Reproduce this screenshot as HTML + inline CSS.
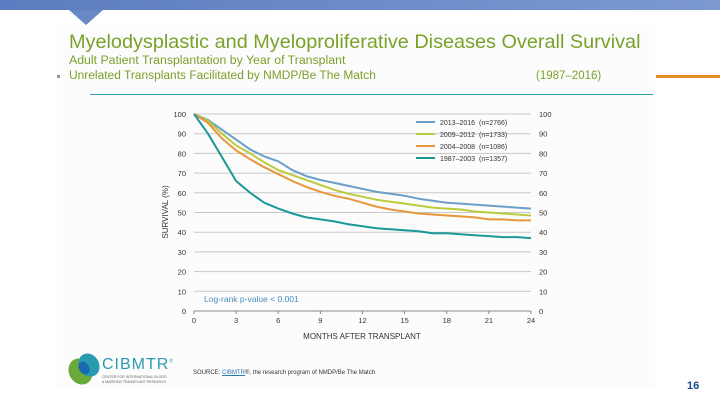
<!DOCTYPE html>
<html><head><meta charset="utf-8"><style>
body{margin:0;width:720px;height:405px;overflow:hidden;background:#fff;font-family:"Liberation Sans",sans-serif;position:relative}
.abs{position:absolute}
</style></head><body>
<div class="abs" style="left:0;top:0;width:720px;height:10px;background:linear-gradient(90deg,#5b7cc0,#7c9ad0)"></div>
<div class="abs" style="left:69px;top:10px;width:0;height:0;border-left:17px solid transparent;border-right:17px solid transparent;border-top:15px solid #6a88c6"></div>
<div class="abs" style="left:57px;top:25px;width:598px;height:365px;background:#fcfcfc"></div>
<div class="abs" style="left:69px;top:31px;font-size:19.5px;color:#7aa12a;white-space:nowrap;transform-origin:0 0;transform:scaleX(1.018)">Myelodysplastic and Myeloproliferative Diseases Overall Survival</div>
<div class="abs" style="left:69px;top:55px;font-size:11.5px;color:#7aa12a;white-space:nowrap;transform-origin:0 0;transform:scaleX(1.07)">Adult Patient Transplantation by Year of Transplant</div>
<div class="abs" style="left:69px;top:70px;font-size:11.5px;color:#7aa12a;white-space:nowrap;transform-origin:0 0;transform:scaleX(1.04)">Unrelated Transplants Facilitated by NMDP/Be The Match</div>
<div class="abs" style="left:536px;top:70px;font-size:11.5px;color:#7aa12a">(1987–2016)</div>
<div class="abs" style="left:57px;top:75px;width:3px;height:3px;background:#999"></div>
<div class="abs" style="left:90px;top:94px;width:563px;height:1px;background:#2aa0b0"></div>
<div class="abs" style="left:656px;top:75px;width:64px;height:3px;background:#e08a2a"></div>

<svg class="abs" style="left:0;top:0" width="720" height="405">
<g id="grid"></g>
<g id="curves"></g>
<g id="legend"></g>
<text x="204" y="302" font-size="8.5" fill="#4a8fc0">Log-rank p-value &lt; 0.001</text>
<text x="362" y="339" font-size="8" fill="#333" text-anchor="middle">MONTHS AFTER TRANSPLANT</text>
<text x="0" y="0" font-size="8" fill="#333" text-anchor="middle" transform="translate(168,212) rotate(-90)">SURVIVAL (%)</text>
</svg>

<div class="abs" style="left:69px;top:353px;width:32px;height:32px">
<div class="abs" style="left:0;top:5px;width:23px;height:27px;border-radius:50%;background:#6aaa3a;transform:rotate(-30deg)"></div>
<div class="abs" style="left:10px;top:0;width:20px;height:24px;border-radius:50%;background:#2a9ab0;transform:rotate(-30deg)"></div>
<div class="abs" style="left:10px;top:8px;width:10px;height:14px;border-radius:50%;background:#1a6ab0;transform:rotate(-30deg)"></div>
</div>
<div class="abs" style="left:102px;top:356px;font-size:16px;color:#2a9ab0;letter-spacing:1px">CIBMTR<sup style="font-size:5px">®</sup></div>
<div class="abs" style="left:102px;top:375px;font-size:3.5px;color:#666;line-height:4.5px">CENTER FOR INTERNATIONAL BLOOD<br>&amp; MARROW TRANSPLANT RESEARCH</div>
<div class="abs" style="left:193px;top:370px;font-size:6px;color:#333;white-space:nowrap">SOURCE: <span style="color:#2a7ab0;text-decoration:underline">CIBMTR</span>®, the research program of NMDP/Be The Match</div>
<div class="abs" style="left:687px;top:380px;font-size:11px;font-weight:bold;color:#1a4a8a">16</div>

<script>
const months=[0,1,2,3,4,5,6,7,8,9,10,11,12,13,14,15,16,17,18,19,20,21,22,23,24];
const xTicks=[0,3,6,9,12,15,18,21,24];
const yTicks=[0,10,20,30,40,50,60,70,80,90,100];
const seriesNames=["2013–2016","2009–2012","2004–2008","1987–2003"];
const seriesN=["(n=2766)","(n=1733)","(n=1086)","(n=1357)"];
const s2013=[100,97,92,87,82,78.5,76,71.5,68.5,66.5,65,63.5,62,60.5,59.5,58.5,57,56,55,54.5,54,53.5,53,52.5,52];
const s2009=[100,96.5,90,84,80,75.5,71.5,69,66.5,64,61.5,59.5,58,56.5,55.5,54.5,53.5,52.5,52,51.5,50.5,50,49.5,49,48.5];
const s2004=[100,95.5,87.5,81.5,77,73,69.5,66,63,60.5,58.5,57,55,53,51.5,50.5,49.5,49,48.5,48,47.5,46.5,46.5,46,46];
const s1987=[100,90,78,66,60,55,52,49.5,47.5,46.5,45.5,44,43,42,41.5,41,40.5,39.5,39.5,39,38.5,38,37.5,37.5,37];
const colors=["#6a9fc8","#bccb3c","#e8963a","#1b9898"];
const NS="http://www.w3.org/2000/svg";
const X0=194,X1=531,Y0=311,Y1=114;
const xs=m=>X0+(X1-X0)*m/24, ys=v=>Y0-(Y0-Y1)*v/100;
function mk(t,a,p){const e=document.createElementNS(NS,t);for(const k in a)e.setAttribute(k,a[k]);p.appendChild(e);return e;}
const grid=document.getElementById('grid');
yTicks.forEach(v=>{
 const l=mk('line',{x1:X0,x2:X1,y1:ys(v),y2:ys(v),stroke:v===0?'#888':'#c8c8c8','stroke-width':1},grid);
 
 
 const a=mk('text',{x:X0-8,y:ys(v)+3,'font-size':7.5,fill:'#333','text-anchor':'end'},grid);a.textContent=v;
 
 
 const b=mk('text',{x:X1+8,y:ys(v)+3,'font-size':7.5,fill:'#333'},grid);b.textContent=v;
 
 
});
xTicks.forEach(m=>{
 mk('line',{x1:xs(m),x2:xs(m),y1:Y0,y2:Y0+3,stroke:'#888'},grid);
 const t=mk('text',{x:xs(m),y:Y0+12,'font-size':7.5,fill:'#333','text-anchor':'middle'},grid);t.textContent=m;
 
 
});
const cg=document.getElementById('curves');
[s2013,s2009,s2004,s1987].forEach((s,i)=>{
 const d=s.map((v,j)=>(j?'L':'M')+xs(months[j]).toFixed(1)+','+ys(v).toFixed(1)).join('');
 const p=mk('path',{d:d,fill:'none',stroke:colors[i],'stroke-width':2,'stroke-linejoin':'round'},cg);
 
 
});
const lg=document.getElementById('legend');
seriesNames.forEach((n,i)=>{
 const y=122+i*12;
 const l=mk('line',{x1:416,x2:435,y1:y,y2:y,stroke:colors[i],'stroke-width':2},lg);
 
 
 const t=mk('text',{x:440,y:y+3,'font-size':7,fill:'#333'},lg);t.textContent=n;
 
 
 const t2=mk('text',{x:479,y:y+3,'font-size':7,fill:'#333'},lg);t2.textContent=seriesN[i];
 
 
});
</script>
</body></html>
